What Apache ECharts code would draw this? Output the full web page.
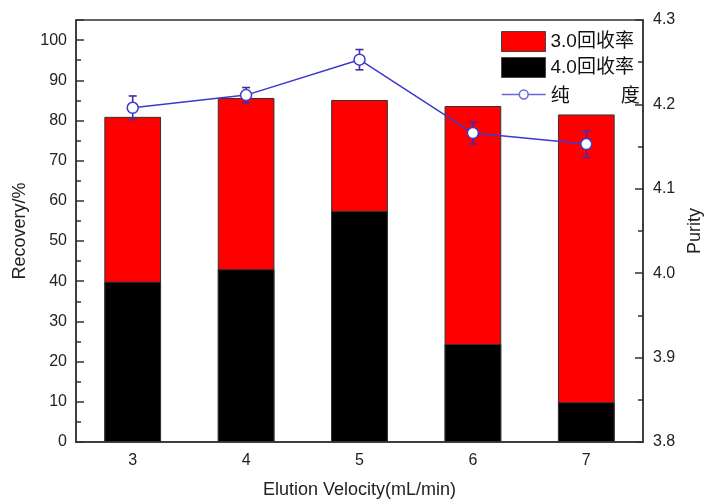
<!DOCTYPE html>
<html>
<head>
<meta charset="utf-8">
<script src="https://cdn.jsdelivr.net/npm/echarts@6/dist/echarts.min.js"></script>
<style>html,body{margin:0;padding:0;background:#fff}#c{width:705px;height:499px}</style>
</head>
<body>
<div id="c"></div>
<script>
var categories = ['3', '4', '5', '6', '7'];
var recovery30 = [80.9, 85.6, 85.1, 83.6, 81.5];
var recovery40 = [39.9, 43.0, 57.5, 24.4, 9.9];
var purity = [4.196, 4.211, 4.253, 4.166, 4.153];
var purityErr = [0.014, 0.009, 0.012, 0.013, 0.016];

var FONT = '"Liberation Sans", Arial, "Noto Sans CJK SC", sans-serif';
var errData = purity.map(function (v, i) { return [i, v - purityErr[i], v + purityErr[i]]; });
var legendText = {fontSize: 19, color: '#111', fontFamily: '"Liberation Sans", "Noto Sans CJK SC", sans-serif',
  rich: {l: {width: 70, fontSize: 19, color: '#111', fontFamily: '"Noto Sans CJK SC"'}, r: {fontSize: 19, color: '#111', fontFamily: '"Noto Sans CJK SC"'}}};

var chart = echarts.init(document.getElementById('c'), null, {renderer: 'canvas'});
chart.setOption({
  animation: false,
  backgroundColor: '#fff',
  textStyle: {fontFamily: FONT},
  grid: {left: 76, right: 62, top: 20, bottom: 57, show: true, borderColor: '#333', borderWidth: 1.5,
    backgroundColor: 'transparent', outerBoundsMode: 'none', containLabel: false},
  legend: [{
    orient: 'vertical', left: 496, top: 26, itemWidth: 44, itemHeight: 20, itemGap: 5,
    icon: 'rect', itemStyle: {borderColor: '#444', borderWidth: 1},
    textStyle: legendText,
    data: ['3.0回收率', '4.0回收率']
  }, {
    orient: 'vertical', left: 496, top: 80, itemWidth: 44, itemHeight: 11,
    textStyle: legendText,
    lineStyle: {color: '#6a6ad6', width: 1.5},
    itemStyle: {color: '#fff', borderColor: '#6a6ad6', borderWidth: 1.5},
    formatter: function () { return '{l|纯}{r|度}'; },
    data: ['纯度']
  }],
  xAxis: {
    type: 'category', data: categories,
    name: 'Elution Velocity(mL/min)', nameLocation: 'middle', nameGap: 39,
    nameTextStyle: {fontSize: 18, color: '#222', fontFamily: FONT},
    axisLine: {lineStyle: {color: '#333', width: 1.5}},
    axisTick: {inside: true, length: 5, lineStyle: {color: '#333', width: 1.5}},
    axisLabel: {fontSize: 16, color: '#222', margin: 11, fontFamily: FONT},
    splitLine: {show: false}
  },
  yAxis: [{
    type: 'value', min: 0, max: 105, interval: 10, position: 'left',
    name: 'Recovery/%', nameLocation: 'middle', nameGap: 47,
    nameTextStyle: {fontSize: 18, color: '#222', fontFamily: FONT},
    axisLine: {show: true, lineStyle: {color: '#333', width: 1.5}},
    axisTick: {show: true, inside: true, length: 8, lineStyle: {color: '#333', width: 1.5}},
    minorTick: {show: true, splitNumber: 2, length: 5, lineStyle: {color: '#333', width: 1.5}},
    axisLabel: {fontSize: 16, color: '#222', margin: 9, showMaxLabel: false, fontFamily: FONT},
    splitLine: {show: false}
  }, {
    type: 'value', min: 3.8, max: 4.3, interval: 0.1, position: 'right',
    name: 'Purity', nameLocation: 'middle', nameGap: 42,
    nameTextStyle: {fontSize: 18, color: '#222', fontFamily: FONT},
    axisLine: {show: true, lineStyle: {color: '#333', width: 1.5}},
    axisTick: {show: true, inside: true, length: 8, lineStyle: {color: '#333', width: 1.5}},
    minorTick: {show: true, splitNumber: 2, length: 5, lineStyle: {color: '#333', width: 1.5}},
    axisLabel: {fontSize: 16, color: '#222', margin: 10, fontFamily: FONT, formatter: function (v) { return v.toFixed(1); }},
    splitLine: {show: false}
  }],
  series: [{
    name: '3.0回收率', type: 'bar', data: recovery30, barWidth: '50%', barGap: '-100%', z: 2,
    itemStyle: {color: '#ff0000', borderColor: '#333', borderWidth: 1}
  }, {
    name: '4.0回收率', type: 'bar', data: recovery40, barWidth: '50%', barGap: '-100%', z: 2,
    itemStyle: {color: '#000000', borderColor: '#333', borderWidth: 1}
  }, {
    name: 'err', type: 'custom', yAxisIndex: 1, z: 3, data: errData, silent: true,
    renderItem: function (params, api) {
      var lo = api.coord([api.value(0), api.value(1)]);
      var hi = api.coord([api.value(0), api.value(2)]);
      var w = 4;
      var st = {stroke: '#4a2aa8', lineWidth: 1.6};
      return {type: 'group', children: [
        {type: 'line', shape: {x1: lo[0], y1: lo[1], x2: hi[0], y2: hi[1]}, style: st},
        {type: 'line', shape: {x1: lo[0] - w, y1: lo[1], x2: lo[0] + w, y2: lo[1]}, style: st},
        {type: 'line', shape: {x1: hi[0] - w, y1: hi[1], x2: hi[0] + w, y2: hi[1]}, style: st}
      ]};
    }
  }, {
    name: '纯度', type: 'line', yAxisIndex: 1, data: purity, z: 4,
    symbol: 'circle', symbolSize: 11,
    lineStyle: {color: '#3a3acc', width: 1.5},
    itemStyle: {color: '#ffffff', borderColor: '#3a3acc', borderWidth: 1.5}
  }]
});
</script>
</body>
</html>
